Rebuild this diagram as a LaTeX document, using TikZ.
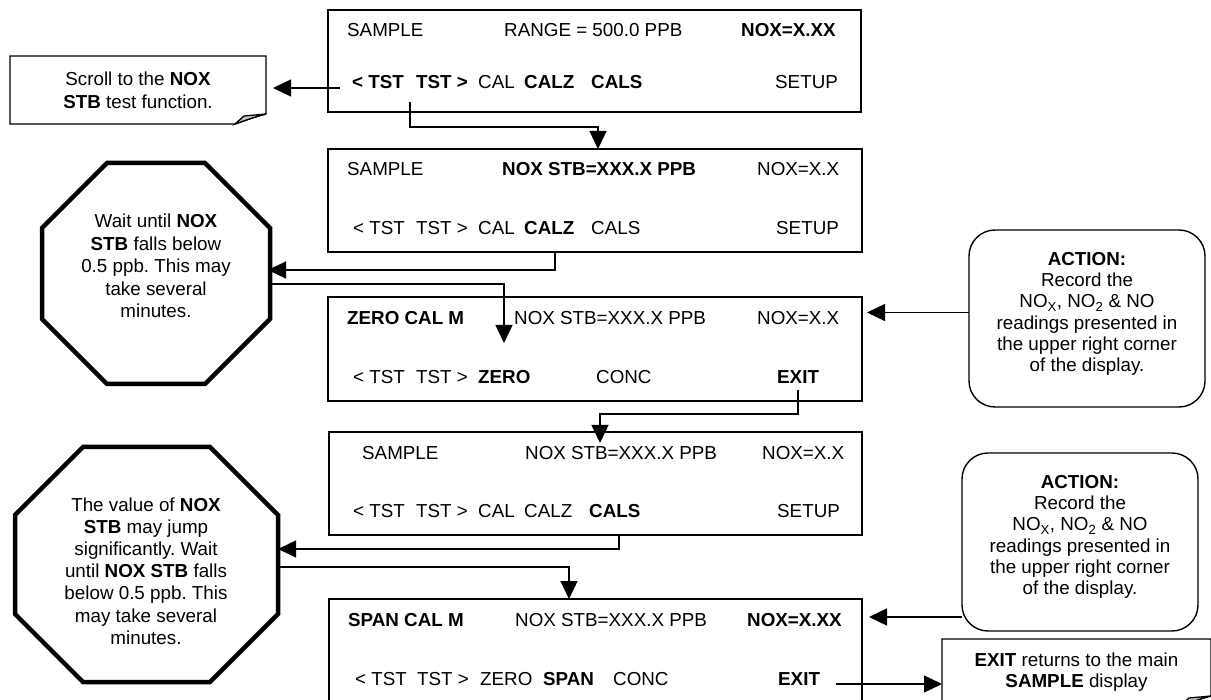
\documentclass[tikz,border=0pt]{standalone}
\usepackage{fontspec}
\setmainfont{Liberation Sans}
\usetikzlibrary{arrows.meta,calc}
\frenchspacing
\begin{document}
\begin{tikzpicture}[x=1pt,y=-1pt,
  every node/.style={font=\fontsize{18.8}{22.5}\selectfont},
  disp/.style={draw, line width=1.4pt, inner sep=0pt, outer sep=0pt},
  dt/.style={anchor=base west, inner sep=0pt},
  txt/.style={align=center, inner sep=0pt},
  conn/.style={line width=1.3pt, -{Triangle[length=18pt,width=17pt]}},
  oct/.style={line width=4.5pt, line join=miter},
  octbox/.style={inner sep=0pt, outer sep=0pt},
  act/.style={draw, line width=1.4pt, rounded corners=26pt, inner sep=0pt, outer sep=0pt},
  note/.style={line width=1.3pt},
  notebox/.style={inner sep=0pt, outer sep=0pt, align=center}
]
\useasboundingbox (0,0) rectangle (1211,700);
\clip (0,0) rectangle (1211,700);

% ---------- display boxes ----------
\node[disp, minimum width=533pt, minimum height=102pt] (d1) at (594.5,61) {};
\node[disp, minimum width=534pt, minimum height=103pt] (d2) at (595,200.5) {};
\node[disp, minimum width=534pt, minimum height=104pt] (d3) at (595,349) {};
\node[disp, minimum width=533pt, minimum height=103pt] (d4) at (595.5,483.5) {};
\node[disp, minimum width=533pt, minimum height=104pt] (d5) at (595.5,651) {};

% box 1
\node[dt] (t1a) at (347,37) {SAMPLE};
\node[dt] (t1b) at (504,37) {RANGE = 500.0 PPB};
\node[dt] (t1c) at (741,37) {\textbf{NOX=X.XX}};
\node[dt] (t1d) at (352,89) {\textbf{< TST}};
\node[dt] (t1e) at (416,89) {\textbf{TST >}};
\node[dt] (t1f) at (478,89) {CAL};
\node[dt] (t1g) at (524,89) {\textbf{CALZ}};
\node[dt] (t1h) at (591,89) {\textbf{CALS}};
\node[dt] (t1i) at (775,89) {SETUP};
% box 2
\node[dt] (t2a) at (347,176) {SAMPLE};
\node[dt] (t2b) at (502,176) {\textbf{NOX STB=XXX.X PPB}};
\node[dt] (t2c) at (757,176) {NOX=X.X};
\node[dt] (t2d) at (353,235) {< TST};
\node[dt] (t2e) at (416,235) {TST >};
\node[dt] (t2f) at (478,235) {CAL};
\node[dt] (t2g) at (524,235) {\textbf{CALZ}};
\node[dt] (t2h) at (591,235) {CALS};
\node[dt] (t2i) at (776,235) {SETUP};
% box 3
\node[dt] (t3a) at (347,324.5) {\textbf{ZERO CAL M}};
\node[dt] (t3b) at (514,324.5) {NOX STB=XXX.X PPB};
\node[dt] (t3c) at (757,324.5) {NOX=X.X};
\node[dt] (t3d) at (353,383.5) {< TST};
\node[dt] (t3e) at (416,383.5) {TST >};
\node[dt] (t3f) at (478,383.5) {\textbf{ZERO}};
\node[dt] (t3g) at (596,383.5) {CONC};
\node[dt] (t3h) at (777,383.5) {\textbf{EXIT}};
% box 4
\node[dt] (t4a) at (362,459.5) {SAMPLE};
\node[dt] (t4b) at (525,459.5) {NOX STB=XXX.X PPB};
\node[dt] (t4c) at (762,459.5) {NOX=X.X};
\node[dt] (t4d) at (353,518) {< TST};
\node[dt] (t4e) at (416,518) {TST >};
\node[dt] (t4f) at (478,518) {CAL};
\node[dt] (t4g) at (524,518) {CALZ};
\node[dt] (t4h) at (589,518) {\textbf{CALS}};
\node[dt] (t4i) at (777,518) {SETUP};
% box 5
\node[dt] (t5a) at (348,626.5) {\textbf{SPAN CAL M}};
\node[dt] (t5b) at (515,626.5) {NOX STB=XXX.X PPB};
\node[dt] (t5c) at (747,626.5) {\textbf{NOX=X.XX}};
\node[dt] (t5d) at (355,685) {< TST};
\node[dt] (t5e) at (417,685) {TST >};
\node[dt] (t5f) at (480,685) {ZERO};
\node[dt] (t5g) at (543,685) {\textbf{SPAN}};
\node[dt] (t5h) at (613,685) {CONC};
\node[dt] (t5i) at (778,685) {\textbf{EXIT}};

% ---------- octagons ----------
\node[octbox, minimum width=228pt, minimum height=221pt] (o1) at (156,273.5) {};
\draw[oct] ($(o1.north west)+(65,0)$) -- ($(o1.north east)+(-65,0)$) -- ($(o1.north east)+(0,65)$)
  -- ($(o1.south east)+(0,-65)$) -- ($(o1.south east)+(-65,0)$) -- ($(o1.south west)+(65,0)$)
  -- ($(o1.south west)+(0,-65)$) -- ($(o1.north west)+(0,65)$) -- cycle;
\node[txt] (o1t) at (156,266) {Wait until \textbf{NOX}\\\textbf{STB} falls below\\0.5 ppb. This may\\take several\\minutes.};

\node[octbox, minimum width=263pt, minimum height=235pt] (o2) at (146.5,564.5) {};
\draw[oct] ($(o2.north west)+(68,0)$) -- ($(o2.north east)+(-68,0)$) -- ($(o2.north east)+(0,68)$)
  -- ($(o2.south east)+(0,-68)$) -- ($(o2.south east)+(-68,0)$) -- ($(o2.south west)+(68,0)$)
  -- ($(o2.south west)+(0,-68)$) -- ($(o2.north west)+(0,68)$) -- cycle;
\node[txt, font=\fontsize{18.8}{22.2}\selectfont] (o2t) at (146,571) {The value of \textbf{NOX}\\\textbf{STB} may jump\\significantly. Wait\\until \textbf{NOX STB} falls\\below 0.5 ppb. This\\may take several\\minutes.};

% ---------- action boxes ----------
\node[act, minimum width=236pt, minimum height=177pt] (a1) at (1087,318.5) {};
\node[txt, font=\fontsize{18.8}{21.3}\selectfont] (a1t) at (1087,314) {\textbf{ACTION:}\\Record the\\NO\textsubscript{X}, NO\textsubscript{2} \& NO\\readings presented in\\the upper right corner\\of the display.};
\node[act, minimum width=236pt, minimum height=178pt] (a2) at (1080,542) {};
\node[txt, font=\fontsize{18.8}{21.3}\selectfont] (a2t) at (1080,537) {\textbf{ACTION:}\\Record the\\NO\textsubscript{X}, NO\textsubscript{2} \& NO\\readings presented in\\the upper right corner\\of the display.};

% ---------- notes ----------
\node[notebox, minimum width=256pt, minimum height=68pt, font=\fontsize{18.8}{23}\selectfont] (n1) at (138,90) {Scroll to the \textbf{NOX}\\\textbf{STB} test function.};
\draw[note] (n1.north west) -- (n1.north east) -- ($(n1.south east)+(0,-10)$)
  .. controls ($(n1.south east)+(-12,-7)$) and ($(n1.south east)+(-22,-3)$) .. ($(n1.south east)+(-31,0)$)
  -- (n1.south west) -- cycle;
\draw[note, fill=gray!45] ($(n1.south east)+(-31,0)$) -- ($(n1.south east)+(-22,-8)$) -- ($(n1.south east)+(0,-10)$)
  .. controls ($(n1.south east)+(-12,-7)$) and ($(n1.south east)+(-22,-3)$) .. cycle;

\node[notebox, minimum width=269pt, minimum height=67pt, font=\fontsize{18.8}{21}\selectfont] (n2) at (1076.5,672.5) {\textbf{EXIT} returns to the main\\\textbf{SAMPLE} display};
\draw[note] (n2.north west) -- (n2.north east) -- ($(n2.south east)+(0,-10)$)
  .. controls ($(n2.south east)+(-12,-7)$) and ($(n2.south east)+(-22,-3)$) .. ($(n2.south east)+(-31,0)$)
  -- (n2.south west) -- cycle;
\draw[note, fill=gray!45] ($(n2.south east)+(-31,0)$) -- ($(n2.south east)+(-22,-8)$) -- ($(n2.south east)+(0,-10)$)
  .. controls ($(n2.south east)+(-12,-7)$) and ($(n2.south east)+(-22,-3)$) .. cycle;

% ---------- connectors ----------
\coordinate (p1) at (340,88);
\draw[conn, shorten >=7pt] (p1) -- (p1 -| n1.east);

\coordinate (p2) at (410,102);
\coordinate (q2) at (598,127);
\draw[conn] (p2) |- (q2) -- (q2 |- d2.north);

\coordinate (q3) at (555,270);
\draw[conn, shorten >=-2pt] (q3 |- d2.south) -- (q3) -- (q3 -| o1.east);

\coordinate (q4) at (504,284);
\coordinate (e4) at (504,343);
\draw[conn] (q4 -| o1.east) -- (q4) -- (e4);

\coordinate (s5) at ([yshift=6pt]a1.west);
\draw[conn, shorten >=5pt] (s5) -- (s5 -| d3.east);

\coordinate (p6) at (798,390);
\coordinate (q6) at (600,414);
\coordinate (e6) at (600,443);
\draw[conn] (p6) |- (q6) -- (e6);

\coordinate (q7) at (619,549);
\draw[conn] (q7 |- d4.south) -- (q7) -- (q7 -| o2.east);

\coordinate (q8) at (569,567);
\draw[conn] (q8 -| o2.east) -- (q8) -- (q8 |- d5.north);

\coordinate (s10) at ([yshift=-75pt]a2.west);
\draw[conn, shorten >=7pt] (s10) -- (s10 -| d5.east);

\coordinate (p9) at (836,684);
\draw[conn] (p9) -- (p9 -| n2.west);
\end{tikzpicture}
\end{document}
